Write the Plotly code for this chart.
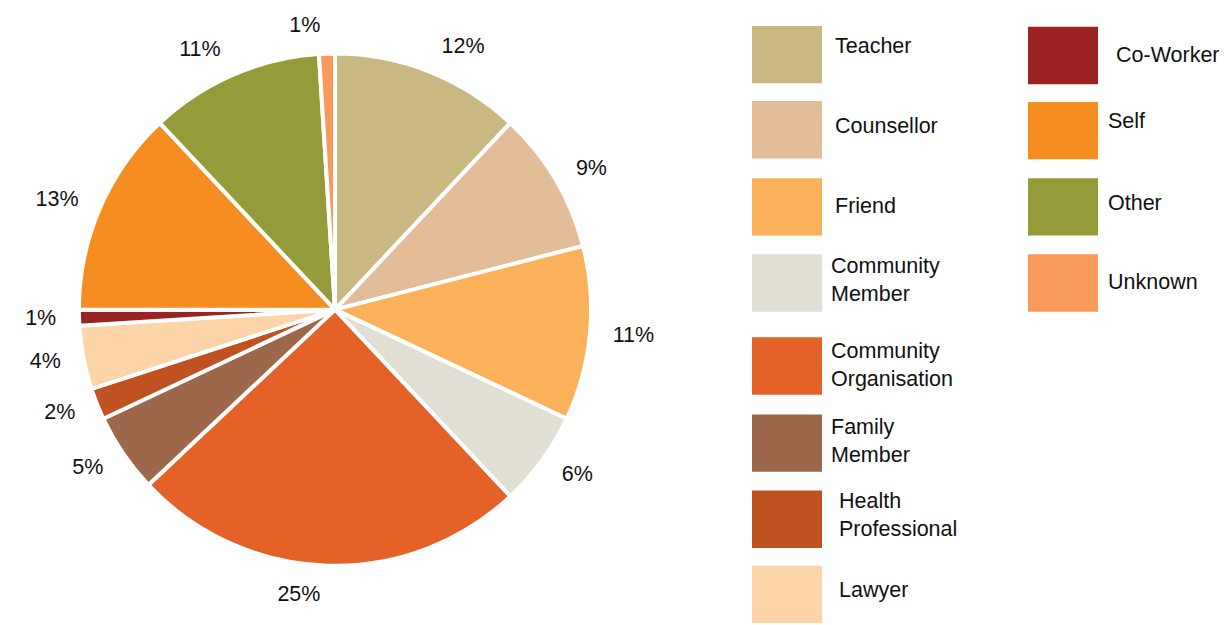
import plotly.graph_objects as go

categories = ["Teacher", "Counsellor", "Friend", "Community Member", "Community Organisation",
              "Family Member", "Health Professional", "Lawyer", "Co-Worker", "Self", "Other", "Unknown"]
values = [12, 9, 11, 6, 25, 5, 2, 4, 1, 13, 11, 1]
legend_labels = ["Teacher", "Counsellor", "Friend", "Community<br>Member", "Community<br>Organisation",
                 "Family<br>Member", "Health<br>Professional", "Lawyer", "Co-Worker", "Self", "Other", "Unknown"]
colors = ["#C9B882", "#E3BC98", "#FBB05A", "#E1DFD4", "#E46228", "#9D684A",
          "#C05222", "#FDD3A8", "#9C2222", "#F68D21", "#969B3A", "#F79A5B"]

W, H = 1227, 625
OFF = 8  # page body margin
FONT = "Liberation Sans, Arial, Helvetica, sans-serif"
FS = 21.5


def px(x):
    return (x - OFF) / W


def py(y):
    return 1 - (y - OFF) / H


CX, CY, R = 335, 306, 259
RT = R + 17  # radius of the invisible ring that carries the labels

fig = go.Figure(go.Pie(
    labels=categories, values=values, sort=False, direction="clockwise", rotation=0,
    marker=dict(colors=["rgba(0,0,0,0)"] * len(values), line=dict(width=0)),
    texttemplate="%{value}%", textposition="outside",
    textfont=dict(size=FS, color="#111", family=FONT),
    domain=dict(x=[px(CX - RT), px(CX + RT)], y=[py(CY + RT), py(CY - RT)]),
    showlegend=False, hoverinfo="skip",
))
fig.add_trace(go.Pie(
    labels=categories, values=values, sort=False, direction="clockwise", rotation=0,
    marker=dict(colors=colors, line=dict(color="white", width=4)),
    textinfo="none",
    domain=dict(x=[px(CX - R), px(CX + R)], y=[py(CY + R), py(CY - R)]),
    showlegend=False, hoverinfo="label+value",
))

# legend layout (pixel positions): box top, box left, text x, text y
box_tops = [19, 95, 173, 250, 334, 412, 489, 565, 20, 96, 173, 250]
box_lefts = [752] * 8 + [1028] * 4
text_x = [834, 834, 834, 830, 830, 830, 838, 838, 1115, 1107, 1107, 1107]
text_y = [39, 120, 201, 276, 362, 439, 514, 590, 48, 115, 198, 278]
box_w, box_h = 70, 58

shapes = []
annotations = []
for i, lab in enumerate(legend_labels):
    x0 = box_lefts[i]
    y0 = box_tops[i]
    shapes.append(dict(type="rect", xref="paper", yref="paper",
                       x0=px(x0), x1=px(x0 + box_w),
                       y0=py(y0 + box_h), y1=py(y0),
                       fillcolor=colors[i], line=dict(width=0)))
    annotations.append(dict(xref="paper", yref="paper", x=px(text_x[i] - 1), y=py(text_y[i]),
                            text=lab, showarrow=False, xanchor="left", yanchor="middle",
                            align="left", font=dict(size=FS, color="#111", family=FONT)))

fig.update_layout(width=W, height=H, margin=dict(l=0, r=0, t=0, b=0),
                  paper_bgcolor="white", plot_bgcolor="white",
                  shapes=shapes, annotations=annotations)
fig.write_html("out.html")
